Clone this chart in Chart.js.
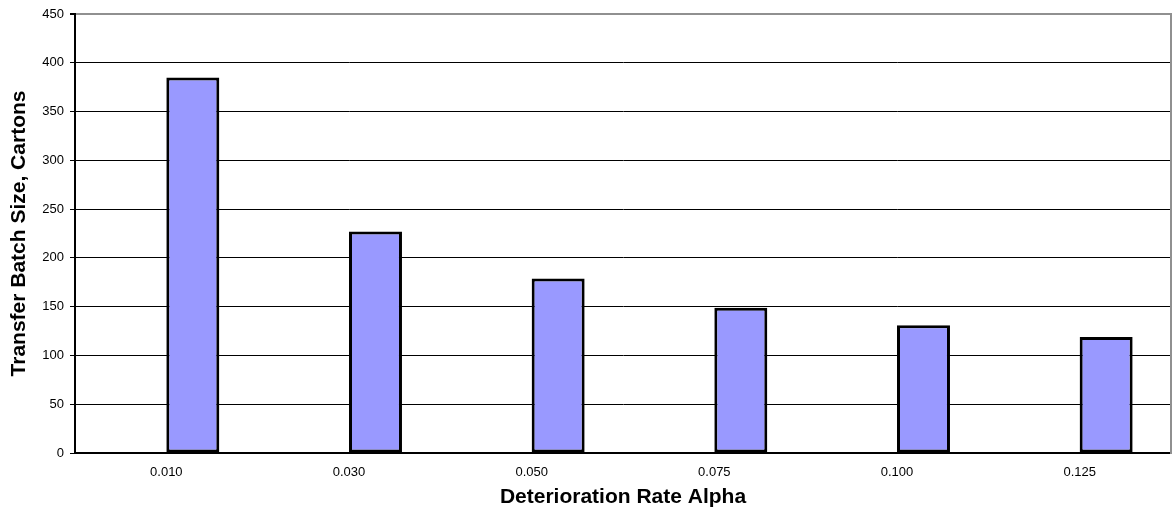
<!DOCTYPE html>
<html>
<head>
<meta charset="utf-8">
<script src="https://cdn.jsdelivr.net/npm/chart.js@4/dist/chart.umd.min.js"></script>
<style>
  html, body { margin: 0; padding: 0; background: #fff; }
  #wrap { width: 1173px; height: 517px; position: relative; }
</style>
</head>
<body>
<div id="wrap"><canvas id="batchChart"></canvas></div>
<script>
const alphaRates = ['0.010', '0.030', '0.050', '0.075', '0.100', '0.125'];
const batchSize = [385, 227, 179, 149, 131, 119];
const emptySeries = [null, null, null, null, null, null];
const yTicksMax = 450;
const yTicksStep = 50;

const font = "Arial, 'Liberation Sans', sans-serif";
const ctx = document.getElementById('batchChart').getContext('2d');

const batchChart = new Chart(ctx, {
    type: 'bar',
    data: {
        labels: alphaRates,
        datasets: [{
            label: '',
            data: emptySeries,
            backgroundColor: 'rgba(0,0,0,0)'
        }, {
            label: 'Transfer Batch Size',
            data: batchSize,
            backgroundColor: '#9999ff',
            borderColor: '#000000',
            borderWidth: 3,
            borderSkipped: false
        }]
    },
    options: {
        responsive: true,
        maintainAspectRatio: false,
        animation: false,
        categoryPercentage: 0.58,
        barPercentage: 1,
        layout: { padding: { top: 14, right: 0, left: 0, bottom: 0 } },
        plugins: {
            legend: { display: false },
            tooltip: { enabled: false }
        },
        scales: {
            x: {
                grid: { display: false, drawTicks: false },
                border: { color: '#000000', width: 2 },
                ticks: { color: '#000', font: { family: font, size: 13 }, padding: 12, maxRotation: 0 },
                title: {
                    display: true,
                    text: 'Deterioration Rate Alpha',
                    color: '#000',
                    font: { family: font, size: 21, weight: 'bold' },
                    padding: { top: 0, bottom: 7 }
                },
                afterFit: (scale) => { scale.height = 64; }
            },
            y: {
                min: 0,
                max: yTicksMax,
                ticks: { stepSize: yTicksStep, color: '#000', font: { family: font, size: 13 }, padding: 6 },
                grid: {
                    color: (c) => (c.tick && c.tick.value === yTicksMax) ? '#909090' : '#000000',
                    lineWidth: (c) => (c.tick && c.tick.value === yTicksMax) ? 2 : 1,
                    tickLength: 5,
                    tickColor: '#000000'
                },
                border: { color: '#000000', width: 2 },
                title: {
                    display: true,
                    text: 'Transfer Batch Size, Cartons',
                    color: '#000',
                    font: { family: font, size: 21, weight: 'bold' },
                    padding: { top: 7, bottom: 0 }
                },
                afterFit: (scale) => { scale.width = 75; }
            },
            y2: {
                position: 'right',
                min: 0,
                max: yTicksMax,
                grid: { display: false, drawTicks: false },
                ticks: { display: false },
                border: { color: '#909090', width: 2 },
                afterFit: (scale) => { scale.width = 2; }
            }
        }
    }
});
</script>
</body>
</html>
